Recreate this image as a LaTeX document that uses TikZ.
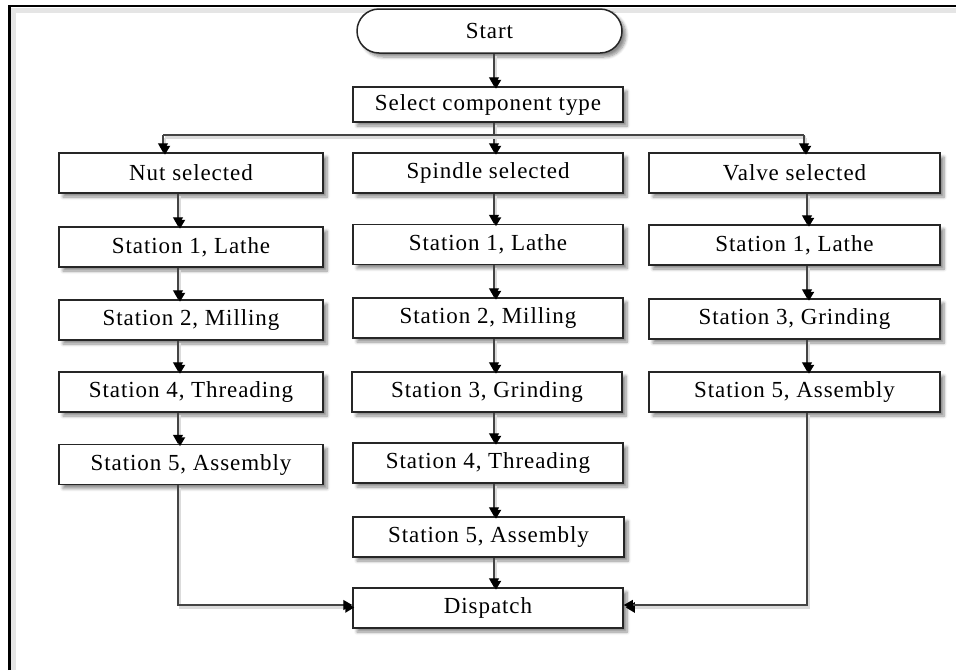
\documentclass[tikz,border=0pt]{standalone}
\usepackage{fontspec}
\setmainfont{Liberation Serif}[LetterSpace=4]
\usetikzlibrary{arrows.meta,shapes.misc,shadows.blur}
\definecolor{edge}{HTML}{262626}
\definecolor{wire}{HTML}{444444}
\begin{document}
\begin{tikzpicture}[x=1pt,y=-1pt,
  font=\fontsize{23}{26}\selectfont,
  boxshadow/.style={blur shadow={shadow xshift=4pt,shadow yshift=-4pt,shadow blur steps=6,shadow blur radius=3pt,shadow opacity=45}},
  procbox/.style={draw=edge,line width=1.5pt,fill=white,rectangle,inner sep=0pt,minimum height=40pt,boxshadow},
  termbox/.style={draw=edge,line width=1.5pt,fill=white,rounded rectangle,inner sep=0pt,minimum width=265pt,minimum height=44pt,boxshadow},
  wireshade/.style={preaction={draw=black!14,line width=2.4pt,transform canvas={shift={(2pt,-2.5pt)}}}},
  link/.style={draw=wire,line width=1.3pt,wireshade},
  arr/.style={link,-{Triangle[width=10pt,length=9pt,color=black]}}]
\useasboundingbox (0,0) rectangle (956,670);

% outer frame (top and left edges only)
\draw[black!10,line width=5pt] (13,670) -- (13,10) -- (956,10);
\draw[black,line width=2.4pt] (9.5,670) -- (9.5,6) -- (956,6);

% column guide coordinates for the vertical connectors
\coordinate (ncol) at (178,0);
\coordinate (scol) at (494,0);
\coordinate (vcol) at (807,0);
\coordinate (bl) at (163,135);
\coordinate (brr) at (804,135);

% nodes
\node[termbox] (start) at (489.5,31) {Start};
\node[procbox,minimum width=270pt,minimum height=35pt] (select) at (488,104.5) {Select component type};

\node[procbox,minimum width=264pt] (nut) at (191,173) {Nut selected};
\node[procbox,minimum width=270pt] (spin) at (488,173) {Spindle selected};
\node[procbox,minimum width=291pt] (valve) at (794.5,173) {Valve selected};

\node[procbox,minimum width=264pt] (n1) at (191,247) {Station 1, Lathe};
\node[procbox,minimum width=264pt] (n2) at (191,320) {Station 2, Milling};
\node[procbox,minimum width=264pt] (n4) at (191,392) {Station 4, Threading};
\node[procbox,minimum width=264pt] (n5) at (191,464.5) {Station 5, Assembly};

\node[procbox,minimum width=270pt] (s1) at (488,244.5) {Station 1, Lathe};
\node[procbox,minimum width=270pt] (s2) at (488,318) {Station 2, Milling};
\node[procbox,minimum width=270pt] (s3) at (487,392) {Station 3, Grinding};
\node[procbox,minimum width=270pt] (s4) at (488,463) {Station 4, Threading};
\node[procbox,minimum width=271pt] (s5) at (488.5,537) {Station 5, Assembly};

\node[procbox,minimum width=291pt] (v1) at (794.5,245) {Station 1, Lathe};
\node[procbox,minimum width=291pt] (v3) at (794.5,319) {Station 3, Grinding};
\node[procbox,minimum width=291pt] (v5) at (794.5,392) {Station 5, Assembly};

\node[procbox,minimum width=270pt] (dispatch) at (488,608) {Dispatch};

% connectors: start and branching
\draw[arr] (scol |- start.south) -- (scol |- select.north);
\draw[arr] (scol |- select.south) -- (scol |- spin.north);
\draw[link] (bl) -- (brr);
\draw[arr] (bl) -- (bl |- nut.north);
\draw[arr] (brr) -- (brr |- valve.north);

% nut column
\draw[arr] (ncol |- nut.south) -- (ncol |- n1.north);
\draw[arr] (ncol |- n1.south) -- (ncol |- n2.north);
\draw[arr] (ncol |- n2.south) -- (ncol |- n4.north);
\draw[arr] (ncol |- n4.south) -- (ncol |- n5.north);
\draw[arr] (ncol |- n5.south) |- ([yshift=3pt]dispatch.west);

% spindle column
\draw[arr] (scol |- spin.south) -- (scol |- s1.north);
\draw[arr] (scol |- s1.south) -- (scol |- s2.north);
\draw[arr] (scol |- s2.south) -- (scol |- s3.north);
\draw[arr] (scol |- s3.south) -- (scol |- s4.north);
\draw[arr] (scol |- s4.south) -- (scol |- s5.north);
\draw[arr] (scol |- s5.south) -- (scol |- dispatch.north);

% valve column
\draw[arr] (vcol |- valve.south) -- (vcol |- v1.north);
\draw[arr] (vcol |- v1.south) -- (vcol |- v3.north);
\draw[arr] (vcol |- v3.south) -- (vcol |- v5.north);
\draw[arr] (vcol |- v5.south) |- ([yshift=3pt]dispatch.east);
\end{tikzpicture}
\end{document}
